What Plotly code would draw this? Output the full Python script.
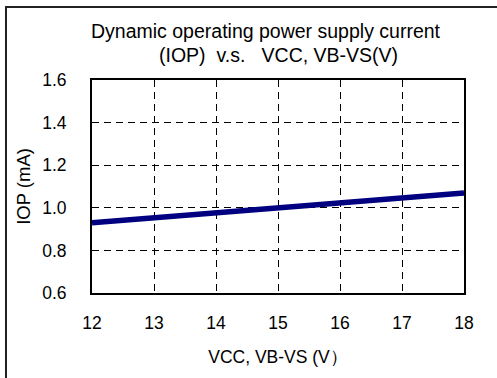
import plotly.graph_objects as go

# Supply voltage (V) and dynamic operating current (mA)
vcc = [12, 13, 14, 15, 16, 17, 18]
iop = [0.93, 0.953, 0.977, 1.0, 1.023, 1.047, 1.07]

x_ticks = [12, 13, 14, 15, 16, 17, 18]
y_ticks = [0.6, 0.8, 1.0, 1.2, 1.4, 1.6]
y_tick_text = ["0.6", "0.8", "1.0", "1.2", "1.4", "1.6"]

FONT = "Liberation Sans, Arial, sans-serif"

fig = go.Figure()
fig.add_trace(go.Scatter(
    x=vcc, y=iop, mode="lines",
    line=dict(color="#000080", width=5.5),
    showlegend=False, hoverinfo="skip",
))

W, H = 497, 378
L, R, T, B = 92, 464, 80, 293
pw, ph = R - L, B - T

def px(xp):
    return (xp - L) / pw

def py(yp):
    return (B - yp) / ph

grid = dict(showgrid=True, gridcolor="black", gridwidth=1, griddash="7px,5px")

fig.update_layout(
    width=W, height=H,
    margin=dict(l=L, r=W - R, t=T, b=H - B),
    paper_bgcolor="white", plot_bgcolor="white",
    font=dict(family=FONT, size=17.5, color="black"),
    xaxis=dict(
        range=[12, 18], tickvals=x_ticks, ticks="", ticklabelstandoff=13,
        tickfont=dict(size=17.5),
        showline=True, linecolor="black", linewidth=2, mirror=True,
        zeroline=False,
        title=dict(text="VCC, VB-VS (V\uff09", standoff=19,
                   font=dict(family=FONT, size=17.5)),
        **grid,
    ),
    yaxis=dict(
        range=[0.6, 1.6], tickvals=y_ticks, ticktext=y_tick_text, ticks="",
        ticklabelstandoff=20, tickfont=dict(size=17.5),
        showline=True, linecolor="black", linewidth=2, mirror=True,
        zeroline=False,
        title=dict(text="IOP (mA)", standoff=7,
                   font=dict(family=FONT, size=18.5)),
        **grid,
    ),
    shapes=[dict(
        type="rect", xref="paper", yref="paper",
        x0=px(6), x1=px(520), y0=py(420), y1=py(7),
        line=dict(color="#222222", width=2), fillcolor="rgba(0,0,0,0)",
        layer="below",
    )],
    annotations=[
        dict(text="Dynamic operating power supply current", xref="paper", yref="paper",
             x=px(266), y=py(31), xanchor="center", yanchor="middle",
             showarrow=False, font=dict(family=FONT, size=19.5)),
        dict(text="(IOP)\u00a0\u00a0v.s.\u00a0\u00a0\u00a0VCC, VB-VS(V)", xref="paper", yref="paper",
             x=px(278), y=py(55), xanchor="center", yanchor="middle",
             showarrow=False, font=dict(family=FONT, size=19.5)),
    ],
)

fig.write_html("out.html")
